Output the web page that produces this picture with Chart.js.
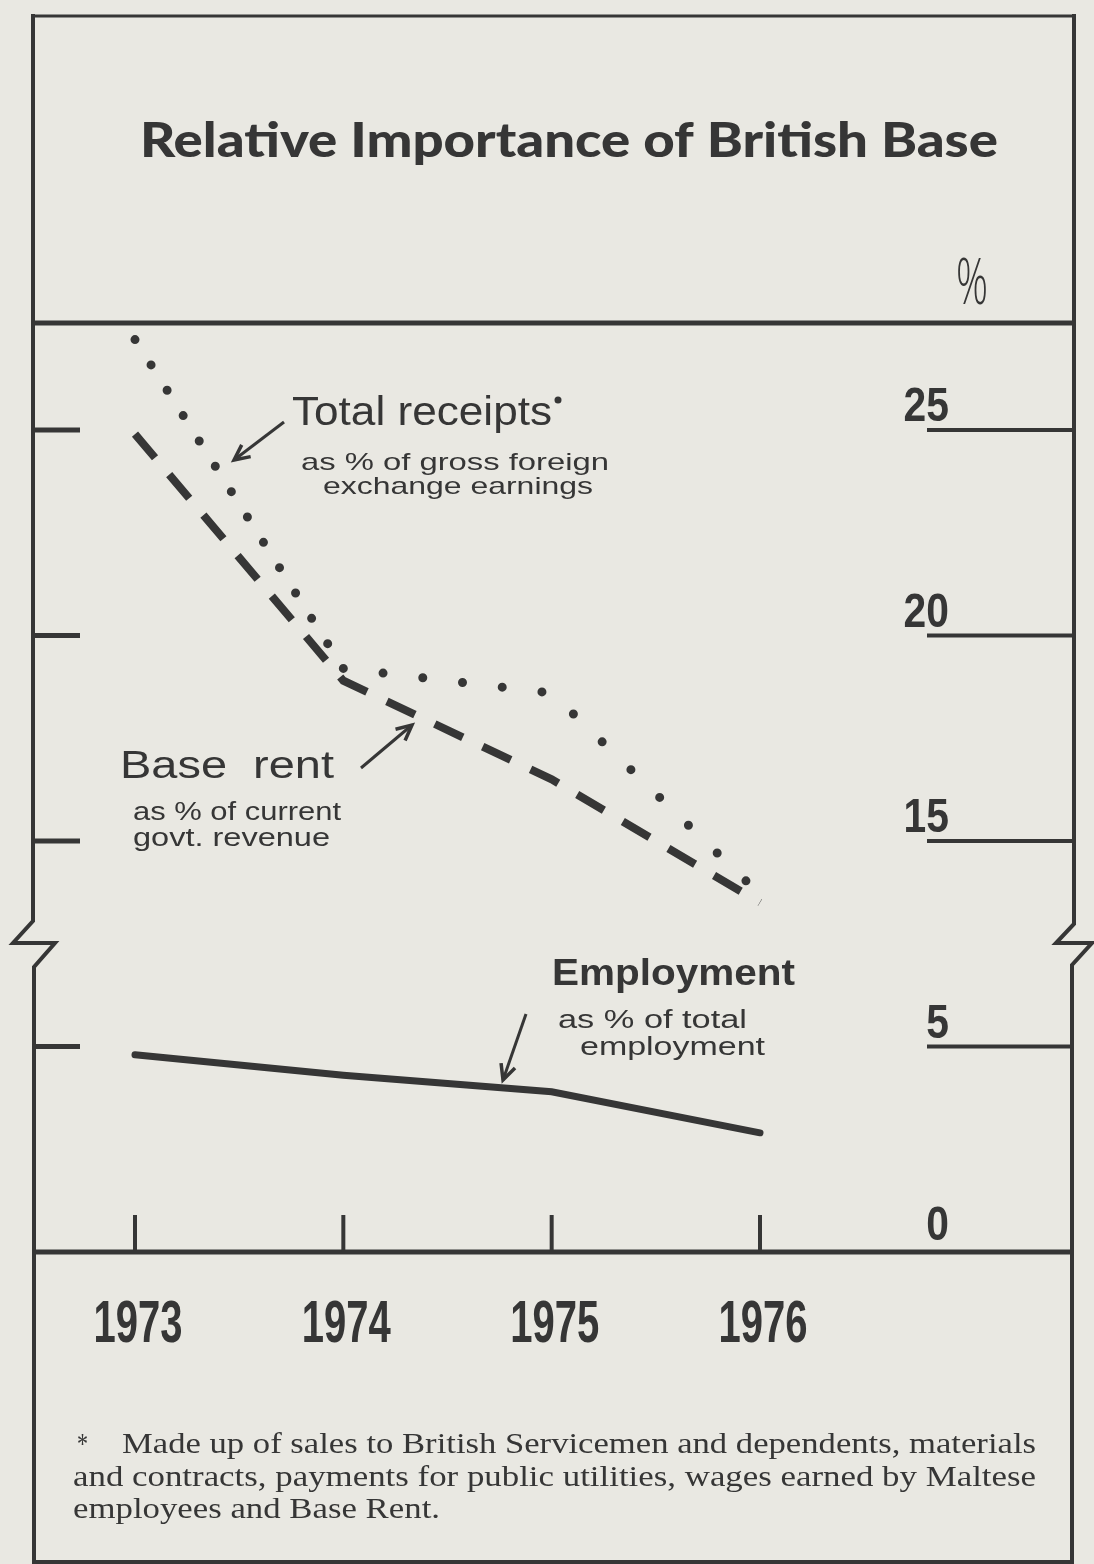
<!DOCTYPE html>
<html>
<head>
<meta charset="utf-8">
<script src="https://cdn.jsdelivr.net/npm/chart.js@4.4.1/dist/chart.umd.min.js"></script>
<style>
  html, body { margin: 0; padding: 0; background: #e9e8e2; }
  #chart { display: block; }
</style>
</head>
<body>
<canvas id="chart" width="1094" height="1564"></canvas>
<script>
// values (per cent)
var years = [1973, 1974, 1975, 1976];
var totalReceipts = [27.2, 19.2, 18.6, 13.7];
var baseRent = [24.9, 18.9, 16.5, 13.5];
var employment = [4.8, 4.3, 3.9, 2.9];
var tickValues = [0, 5, 15, 20, 25];
var tickLabels = ['0', '5', '15', '20', '25'];
var yearLabels = ['1973', '1974', '1975', '1976'];
var breakGap = 5; // the axis jumps from 5 to 15 in the space of 5 units

var ink = '#363636';
var paper = '#e9e8e2';

function toAxis(v) {
  return v > 10 ? v - breakGap : v;
}

function fitText(c, str, x, y, w, font, align) {
  c.font = font;
  var m = c.measureText(str).width;
  c.save();
  c.translate(x, y);
  c.scale(w / m, 1);
  c.textAlign = 'left';
  var ox = 0;
  if (align === 'right') ox = -m;
  else if (align === 'center') ox = -m / 2;
  c.fillText(str, ox, 0);
  c.restore();
}

function line(c, pts, w) {
  c.beginPath();
  c.moveTo(pts[0][0], pts[0][1]);
  for (var i = 1; i < pts.length; i++) c.lineTo(pts[i][0], pts[i][1]);
  c.lineWidth = w;
  c.stroke();
}

function arrow(c, x1, y1, x2, y2) {
  line(c, [[x1, y1], [x2, y2]], 3);
  var a = Math.atan2(y2 - y1, x2 - x1);
  var L = 17, s = 0.45;
  c.beginPath();
  c.moveTo(x2 - L * Math.cos(a - s), y2 - L * Math.sin(a - s));
  c.lineTo(x2, y2);
  c.lineTo(x2 - L * Math.cos(a + s), y2 - L * Math.sin(a + s));
  c.lineWidth = 3.5;
  c.stroke();
}

var paperPlugin = {
  id: 'paper',
  beforeDraw: function (chart) {
    var c = chart.ctx;
    c.save();
    c.fillStyle = paper;
    c.fillRect(0, 0, chart.width, chart.height);
    c.restore();
  },
  afterDraw: function (chart) {
    var c = chart.ctx;
    var xs = chart.scales.x, ys = chart.scales.y;
    var y0 = ys.getPixelForValue(0);
    c.save();
    c.strokeStyle = ink;
    c.fillStyle = ink;
    c.lineCap = 'butt';
    c.lineJoin = 'miter';

    // frame with the axis break on both sides
    line(c, [[33, 16], [1075, 16]], 3);
    line(c, [[33, 14], [33, 921], [13, 943], [55, 943], [34, 967], [34, 1564]], 4);
    line(c, [[1074, 14], [1074, 924], [1056, 943], [1092, 943], [1072, 965], [1072, 1564]], 4);
    line(c, [[33, 323], [1075, 323]], 5);
    line(c, [[33, y0], [1074, y0]], 5);
    line(c, [[33, 1562], [1074, 1562]], 4);

    // y ticks on both edges + labels
    var tf = 'bold 48px "Liberation Sans Narrow", "Liberation Sans", sans-serif';
    for (var i = 0; i < tickValues.length; i++) {
      var ty = ys.getPixelForValue(toAxis(tickValues[i]));
      if (tickValues[i] !== 0) {
        line(c, [[33, ty], [80, ty]], 5);
        line(c, [[927, ty], [1074, ty]], 4);
      }
      c.font = tf;
      var w = c.measureText(tickLabels[i]).width * 0.85;
      fitText(c, tickLabels[i], 949, ty - (tickValues[i] === 0 ? 12 : 9), w, tf, 'right');
    }

    // x ticks + year labels
    for (var j = 0; j < years.length; j++) {
      var tx = xs.getPixelForValue(years[j]);
      line(c, [[tx, y0 - 37], [tx, y0]], 4);
      fitText(c, yearLabels[j], tx + 3, 1342, 89,
        'bold 60px "Liberation Sans Narrow", "Liberation Sans", sans-serif', 'center');
    }

    // title and unit
    fitText(c, 'Relative Importance of British Base', 569, 157, 858,
      '900 47px Lato, "DejaVu Sans", sans-serif', 'center');
    fitText(c, '%', 956, 304, 32, '300 64px "Open Sans", "Liberation Sans", sans-serif', 'left');

    // series annotations
    fitText(c, 'Total receipts', 292, 425, 260,
      '40px "Liberation Sans Narrow", "Liberation Sans", sans-serif', 'left');
    c.beginPath(); c.arc(558, 400, 3.5, 0, Math.PI * 2); c.fill();
    fitText(c, 'as % of gross foreign', 301, 470, 308, '24px "Liberation Sans", sans-serif', 'left');
    fitText(c, 'exchange earnings', 323, 494, 270, '24px "Liberation Sans", sans-serif', 'left');
    arrow(c, 284, 422, 234, 460);

    fitText(c, 'Base  rent', 120, 778, 214, '38px "Liberation Sans", sans-serif', 'left');
    fitText(c, 'as % of current', 133, 820, 208, '25px "Liberation Sans", sans-serif', 'left');
    fitText(c, 'govt. revenue', 133, 846, 197, '25px "Liberation Sans", sans-serif', 'left');
    arrow(c, 361, 768, 412, 725);

    fitText(c, 'Employment', 552, 985, 243, 'bold 37px "Liberation Sans", sans-serif', 'left');
    fitText(c, 'as % of total', 558, 1028, 189, '25px "Liberation Sans", sans-serif', 'left');
    fitText(c, 'employment', 580, 1055, 185, '25px "Liberation Sans", sans-serif', 'left');
    arrow(c, 526, 1014, 503, 1080);

    // footnote
    var fn = '29px "Liberation Serif", "DejaVu Serif", serif';
    c.font = fn;
    fitText(c, '*', 77, 1453, 11, fn, 'left');
    fitText(c, 'Made up of sales to British Servicemen and dependents, materials', 122, 1453, 914, fn, 'left');
    fitText(c, 'and contracts, payments for public utilities, wages earned by Maltese', 73, 1486, 963, fn, 'left');
    fitText(c, 'employees and Base Rent.', 73, 1518, 367, fn, 'left');
    c.restore();
  }
};

function pts(vals) {
  return years.map(function (yr, i) { return { x: yr, y: toAxis(vals[i]) }; });
}

var ctx = document.getElementById('chart').getContext('2d');
new Chart(ctx, {
  type: 'line',
  data: {
    datasets: [
      {
        label: 'Total receipts',
        data: pts(totalReceipts),
        borderColor: ink,
        borderWidth: 9,
        borderCapStyle: 'round',
        borderDash: [0, 30],
        segment: {
          borderDash: function (sc) { return sc.p0DataIndex === 0 ? [0, 30] : [0, 40]; }
        },
        pointRadius: 0,
        tension: 0,
        clip: false
      },
      {
        label: 'Base rent',
        data: pts(baseRent),
        borderColor: ink,
        borderWidth: 8,
        borderCapStyle: 'butt',
        borderDash: [31, 22],
        pointRadius: 0,
        tension: 0,
        clip: false
      },
      {
        label: 'Employment',
        data: pts(employment),
        borderColor: ink,
        borderWidth: 7,
        borderCapStyle: 'round',
        pointRadius: 0,
        tension: 0,
        clip: false
      }
    ]
  },
  options: {
    responsive: false,
    animation: false,
    devicePixelRatio: 1,
    layout: { padding: { left: 135, right: 334, top: 430, bottom: 312 } },
    scales: {
      x: { type: 'linear', min: 1973, max: 1976, display: false },
      y: { type: 'linear', min: 0, max: 20, display: false }
    },
    plugins: {
      legend: { display: false },
      tooltip: { enabled: false }
    }
  },
  plugins: [paperPlugin]
});
</script>
</body>
</html>
